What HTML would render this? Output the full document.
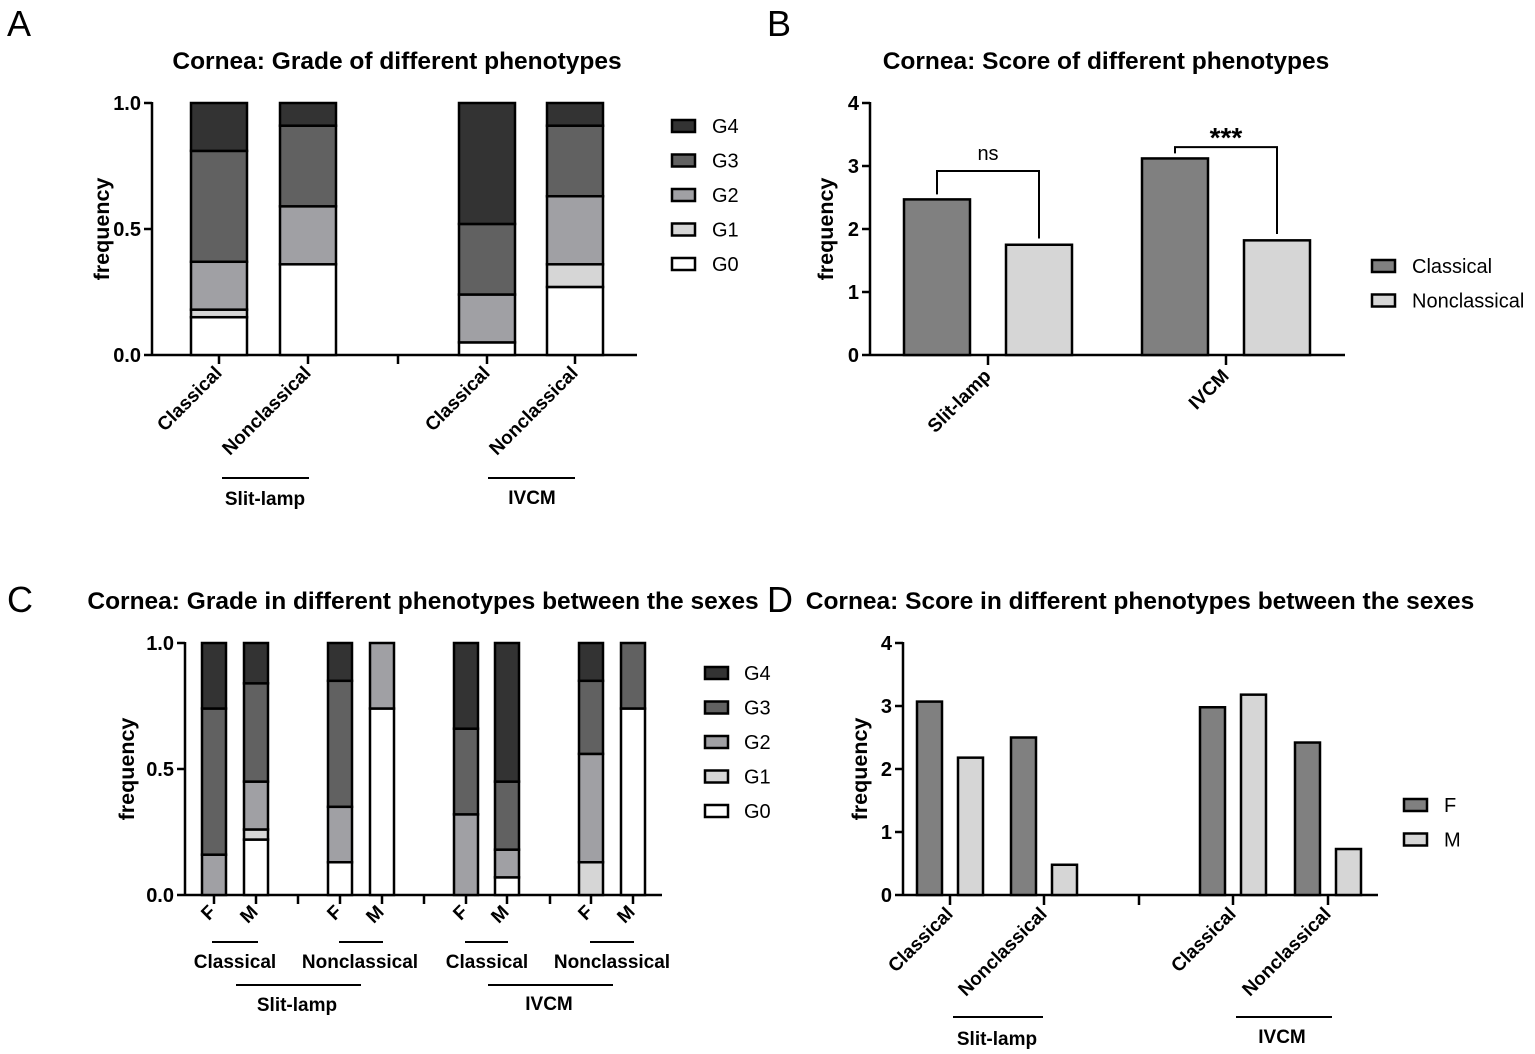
<!DOCTYPE html>
<html><head><meta charset="utf-8"><style>
html,body{margin:0;padding:0;background:#fff;}
svg{display:block;font-family:"Liberation Sans",Arial,sans-serif;}
</style></head><body>
<svg id="fig" width="1535" height="1054" viewBox="0 0 1535 1054" xmlns="http://www.w3.org/2000/svg"></svg>
<script>
// ---------- DATA ----------
const gradeNames = ["G0","G1","G2","G3","G4"];
// Panel A: stacked fractions per bar (G0..G4)
const aCategories = ["Classical","Nonclassical","Classical","Nonclassical"];
const aG0 = [0.15, 0.36, 0.05, 0.27];
const aG1 = [0.03, 0.00, 0.00, 0.09];
const aG2 = [0.19, 0.23, 0.19, 0.27];
const aG3 = [0.44, 0.32, 0.28, 0.28];
const aG4 = [0.19, 0.09, 0.48, 0.09];
// Panel B
const bCategories = ["Slit-lamp","IVCM"];
const bClassical = [2.47, 3.12];
const bNonclassical = [1.75, 1.82];
const bSig = ["ns","***"];
const bBracketTop = [2.92, 3.30];
// Panel C
const cCategories = ["F","M","F","M","F","M","F","M"];
const cG0 = [0.00, 0.22, 0.13, 0.74, 0.00, 0.07, 0.00, 0.74];
const cG1 = [0.00, 0.04, 0.00, 0.00, 0.00, 0.00, 0.13, 0.00];
const cG2 = [0.16, 0.19, 0.22, 0.26, 0.32, 0.11, 0.43, 0.00];
const cG3 = [0.58, 0.39, 0.50, 0.00, 0.34, 0.27, 0.29, 0.26];
const cG4 = [0.26, 0.16, 0.15, 0.00, 0.34, 0.55, 0.15, 0.00];
// Panel D
const dCategories = ["Classical","Nonclassical","Classical","Nonclassical"];
const dF = [3.07, 2.50, 2.98, 2.42];
const dM = [2.18, 0.48, 3.18, 0.73];
const yTicksFrac = [0, 0.5, 1.0];
const yTicksScore = [0, 1, 2, 3, 4];

// ---------- HELPERS ----------
const NS = "http://www.w3.org/2000/svg";
const svg = document.getElementById("fig");
const gradeColors = ["#ffffff","#d6d6d6","#a0a0a4","#616161","#333333"];
function el(tag, attrs, parent, text){
  const e = document.createElementNS(NS, tag);
  for (const k in attrs) e.setAttribute(k, attrs[k]);
  if (text !== undefined) e.textContent = text;
  (parent || svg).appendChild(e);
  return e;
}
function txt(x,y,s,size,weight,anchor,name,rot){
  const t = el("text",{x:x,y:y,"font-size":size,"font-weight":weight,"text-anchor":anchor,fill:"#000"},svg,s);
  if (rot) t.setAttribute("transform","rotate("+rot+" "+x+" "+y+")");
  
  
  return t;
}
function line(x1,y1,x2,y2,w,name){
  const l = el("line",{x1:x1,y1:y1,x2:x2,y2:y2,stroke:"#000","stroke-width":w});
  
  
  return l;
}
function rect(x,y,w,h,fill,name){
  const r = el("rect",{x:x,y:y,width:w,height:h,fill:fill,stroke:"#000","stroke-width":2.5});
  
  
  return r;
}
function yAxis(x0,x1,yTop,yBot,maxV,ticks,fmt,name){
  const sy = v => yBot - (v/maxV)*(yBot-yTop);
  line(x0,yTop-1,x0,yBot,2.5,name+"-y-axis");
  line(x0,yBot,x1,yBot,2.5,name+"-x-axis");
  ticks.forEach(t=>{
    line(x0-8,sy(t),x0,sy(t),2.5,name+"-y-tick");
    txt(x0-11,sy(t)+7,fmt(t),20,"bold","end",name+"-y-tick-label");
  });
  return sy;
}

// ---------- PANEL LETTERS & TITLES ----------
txt(7,36,"A",36,"normal","start","panel-label-a");
txt(767,36,"B",36,"normal","start","panel-label-b");
txt(7,612,"C",36,"normal","start","panel-label-c");
txt(767,612,"D",36,"normal","start","panel-label-d");
txt(397,69,"Cornea: Grade of different phenotypes",24.5,"bold","middle","title-a");
txt(1106,69,"Cornea: Score of different phenotypes",24.5,"bold","middle","title-b");
txt(423,609,"Cornea: Grade in different phenotypes between the sexes",24.5,"bold","middle","title-c");
txt(1140,609,"Cornea: Score in different phenotypes between the sexes",24.5,"bold","middle","title-d");

// ---------- PANEL A ----------
(function(){
  const sy = yAxis(152,637,103,355,1,yTicksFrac,v=>v.toFixed(1),"a");
  txt(109,229,"frequency",21.5,"bold","middle","a-y-axis-title",-90);
  const centers = [219,308,487,575];
  const gapTick = 398;
  const series = [aG0,aG1,aG2,aG3,aG4];
  line(gapTick,355,gapTick,364,2.5,"a-x-tick");
  aCategories.forEach((c,i)=>{
    let cum = 0;
    series.forEach((s,g)=>{
      const v = s[i];
      if (v > 0) rect(centers[i]-28, sy(cum+v), 56, sy(cum)-sy(cum+v), gradeColors[g], "a-bar-"+gradeNames[g].toLowerCase()+"-"+i);
      cum += v;
    });
    line(centers[i],355,centers[i],364,2.5,"a-x-tick");
    txt(centers[i]+4,374,c,19,"bold","end","a-x-label",-45);
  });
  line(222,478,309,478,2,"a-group-line-slit-lamp");
  txt(265,505,"Slit-lamp",19,"bold","middle","a-group-label-slit-lamp");
  line(488,478,575,478,2,"a-group-line-ivcm");
  txt(532,504,"IVCM",19,"bold","middle","a-group-label-ivcm");
  [4,3,2,1,0].forEach((g,k)=>{
    const y = 126 + k*34.5;
    rect(672,y-6,23,12,gradeColors[g],"a-legend-swatch-"+gradeNames[g].toLowerCase());
    txt(712,y+7,gradeNames[g],20,"normal","start","a-legend-label-"+gradeNames[g].toLowerCase());
  });
})();

// ---------- PANEL B ----------
(function(){
  const sy = yAxis(870,1345,103,355,4,yTicksScore,v=>String(v),"b");
  txt(833,229,"frequency",21.5,"bold","middle","b-y-axis-title",-90);
  const groupCenters = [988,1226];
  bCategories.forEach((c,i)=>{
    const gc = groupCenters[i];
    const xc = gc-84, xn = gc+18;
    rect(xc, sy(bClassical[i]), 66, sy(0)-sy(bClassical[i]), "#808080", "b-bar-classical-"+i);
    rect(xn, sy(bNonclassical[i]), 66, sy(0)-sy(bNonclassical[i]), "#d6d6d6", "b-bar-nonclassical-"+i);
    line(gc,355,gc,365,2.5,"b-x-tick");
    txt(gc+4,377,c,19,"bold","end","b-x-label",-45);
    const ly = sy(bBracketTop[i]);
    const p = el("polyline",{points:(xc+33)+","+(sy(bClassical[i]+0.08))+" "+(xc+33)+","+ly+" "+(xn+33)+","+ly+" "+(xn+33)+","+sy(bNonclassical[i]+0.1),fill:"none",stroke:"#000","stroke-width":2});
    
    
    txt((xc+xn)/2+33, ly-(i===0?11:0), bSig[i], i===0?20:28, i===0?"normal":"bold", "middle", "b-significance-label");
  });
  [["Classical","#808080"],["Nonclassical","#d6d6d6"]].forEach((e,k)=>{
    const y = 266 + k*34.5;
    rect(1372,y-6,23,12,e[1],"b-legend-swatch-"+e[0].toLowerCase());
    txt(1412,y+7,e[0],20,"normal","start","b-legend-label-"+e[0].toLowerCase());
  });
})();

// ---------- PANEL C ----------
(function(){
  const sy = yAxis(185,662,643,895,1,yTicksFrac,v=>v.toFixed(1),"c");
  txt(134,769,"frequency",21.5,"bold","middle","c-y-axis-title",-90);
  const centers = [214,256,340,382,466,507,591,633];
  [298,424,550].forEach(x=>line(x,895,x,904,2.5,"c-x-tick"));
  const series = [cG0,cG1,cG2,cG3,cG4];
  cCategories.forEach((c,i)=>{
    let cum = 0;
    series.forEach((s,g)=>{
      const v = s[i];
      if (v > 0) rect(centers[i]-12, sy(cum+v), 24, sy(cum)-sy(cum+v), gradeColors[g], "c-bar-"+gradeNames[g].toLowerCase()+"-"+i);
      cum += v;
    });
    line(centers[i],895,centers[i],904,2.5,"c-x-tick");
    txt(centers[i]+3,913,c,19,"bold","end","c-x-label",-45);
  });
  const subs = [["Classical",212,258,235],["Nonclassical",339,383,360],["Classical",465,508,487],["Nonclassical",590,634,612]];
  subs.forEach(s=>{
    line(s[1],942,s[2],942,2,"c-subgroup-line");
    txt(s[3],968,s[0],19,"bold","middle","c-subgroup-label");
  });
  line(236,985,361,985,2,"c-group-line-slit-lamp");
  txt(297,1011,"Slit-lamp",19,"bold","middle","c-group-label-slit-lamp");
  line(488,985,613,985,2,"c-group-line-ivcm");
  txt(549,1010,"IVCM",19,"bold","middle","c-group-label-ivcm");
  [4,3,2,1,0].forEach((g,k)=>{
    const y = 673 + k*34.5;
    rect(705,y-6,23,12,gradeColors[g],"c-legend-swatch-"+gradeNames[g].toLowerCase());
    txt(744,y+7,gradeNames[g],20,"normal","start","c-legend-label-"+gradeNames[g].toLowerCase());
  });
})();

// ---------- PANEL D ----------
(function(){
  const sy = yAxis(903,1378,643,895,4,yTicksScore,v=>String(v),"d");
  txt(867,769,"frequency",21.5,"bold","middle","d-y-axis-title",-90);
  const ticks = [950,1044,1233,1328];
  line(1139,895,1139,905,2.5,"d-x-tick");
  dCategories.forEach((c,i)=>{
    const tc = ticks[i];
    rect(tc-33, sy(dF[i]), 25, sy(0)-sy(dF[i]), "#808080", "d-bar-f-"+i);
    rect(tc+8, sy(dM[i]), 25, sy(0)-sy(dM[i]), "#d6d6d6", "d-bar-m-"+i);
    line(tc,895,tc,905,2.5,"d-x-tick");
    txt(tc+4,915,c,19,"bold","end","d-x-label",-45);
  });
  line(953,1017,1043,1017,2,"d-group-line-slit-lamp");
  txt(997,1045,"Slit-lamp",19,"bold","middle","d-group-label-slit-lamp");
  line(1236,1017,1332,1017,2,"d-group-line-ivcm");
  txt(1282,1043,"IVCM",19,"bold","middle","d-group-label-ivcm");
  [["F","#808080"],["M","#d6d6d6"]].forEach((e,k)=>{
    const y = 805 + k*34.5;
    rect(1404,y-6,23,12,e[1],"d-legend-swatch-"+e[0].toLowerCase());
    txt(1444,y+7,e[0],20,"normal","start","d-legend-label-"+e[0].toLowerCase());
  });
})();
</script>
</body></html>
